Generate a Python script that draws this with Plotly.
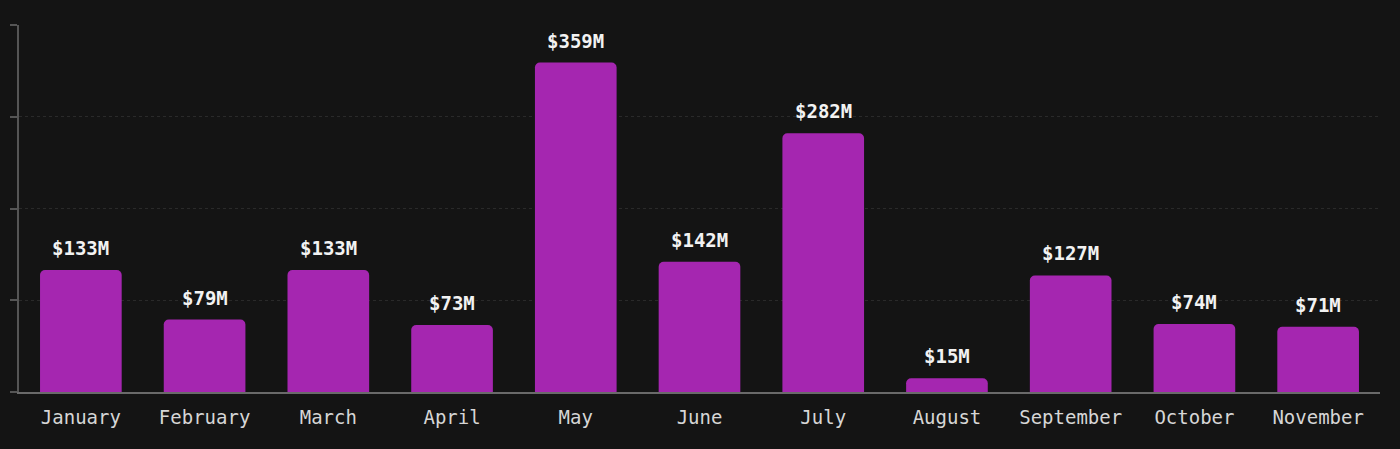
import plotly.graph_objects as go

months = ["January", "February", "March", "April", "May", "June", "July",
          "August", "September", "October", "November"]
values = [133, 79, 133, 73, 359, 142, 282, 15, 127, 74, 71]
labels = ["$133M", "$79M", "$133M", "$73M", "$359M", "$142M", "$282M",
          "$15M", "$127M", "$74M", "$71M"]
y_ticks = [0, 100, 200, 300, 400]

fig = go.Figure(go.Bar(
    x=months, y=values,
    marker=dict(color="#a526b0", cornerradius=5, line=dict(width=0)),
))

for m, v, t in zip(months, values, labels):
    fig.add_annotation(x=m, y=v, text=t, showarrow=False, yanchor="bottom",
                       yshift=9,
                       font=dict(family="DejaVu Sans Mono", size=19,
                                 color="#f2f2f2", weight="bold"))

fig.update_layout(
    width=1400, height=449,
    paper_bgcolor="#141414", plot_bgcolor="#141414",
    margin=dict(l=12, r=20, t=25, b=57),
    bargap=0.34,
    showlegend=False,
    font=dict(family="DejaVu Sans Mono", color="#d0d0d0"),
)
fig.update_xaxes(
    showline=True, linecolor="#6a6a6a", linewidth=2,
    ticks="", tickfont=dict(size=19, color="#d6d6d6", family="DejaVu Sans Mono"),
    ticklabelstandoff=7,
    showgrid=False,
)
fig.update_yaxes(
    range=[0, 400], tickvals=y_ticks, showticklabels=False,
    showline=True, linecolor="#555555", linewidth=2,
    ticks="outside", ticklen=7, tickcolor="#555555", tickwidth=2,
    showgrid=True, gridcolor="#2a2a2a", griddash="dot", gridwidth=1,
    zeroline=False,
)

fig.write_html("out.html", config={"displayModeBar": False},
               post_script="document.body.style.margin='0';document.body.style.background='#141414';")
